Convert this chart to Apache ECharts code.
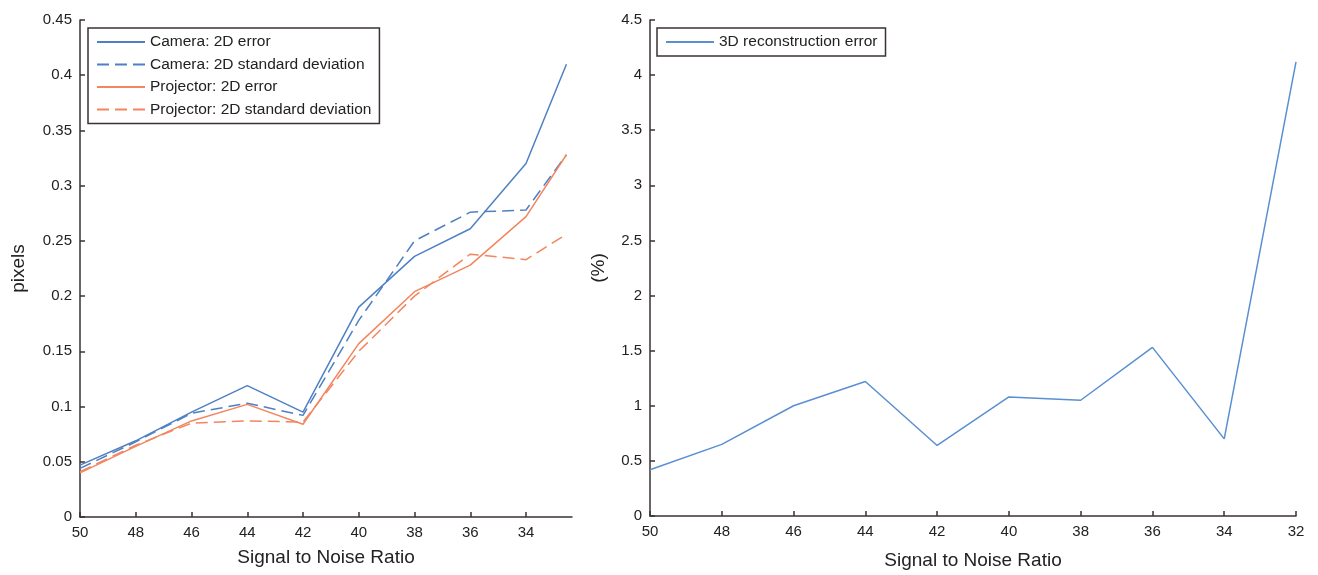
<!DOCTYPE html>
<html>
<head>
<meta charset="utf-8">
<script src="https://cdn.jsdelivr.net/npm/echarts@6/dist/echarts.min.js"></script>
<style type="text/css">
    html, body{
        margin:0;
        padding:0;
        background:#fff;
    }
    #chart{
        width:1318px;
        height:575px;
    }
</style>
</head>
<body>
<div id="chart"></div>
<script type="text/javascript">
    // SNR values (x), left panel ends a bit before 32
    var snrLeft = [50, 48, 46, 44, 42, 40, 38, 36, 34, 32.55];
    var snrRight = [50, 48, 46, 44, 42, 40, 38, 36, 34, 32];
    var leftTicks = [50, 48, 46, 44, 42, 40, 38, 36, 34];

    var cameraError = [0.047, 0.069, 0.095, 0.119, 0.095, 0.190, 0.236, 0.261, 0.320, 0.410];
    var cameraStd = [0.044, 0.068, 0.094, 0.103, 0.092, 0.178, 0.250, 0.276, 0.278, 0.328];
    var projectorError = [0.040, 0.064, 0.087, 0.102, 0.084, 0.157, 0.204, 0.228, 0.272, 0.328];
    var projectorStd = [0.041, 0.065, 0.085, 0.087, 0.086, 0.150, 0.200, 0.238, 0.233, 0.256];
    var reconError = [0.42, 0.65, 1.00, 1.22, 0.64, 1.08, 1.05, 1.53, 0.70, 4.12];

    var BLUE = '#4f80c4';
    var ORANGE = '#f2865f';
    var AXIS = '#3b3232';
    var FONT = '"Liberation Sans", Arial, sans-serif';

    function pairs(xs, ys){
        return xs.map(function(x, i){ return [x, ys[i]]; });
    }

    function lineSeries(name, xi, yi, xs, ys, color, dashed){
        return {
            name: name,
            type: 'line',
            xAxisIndex: xi,
            yAxisIndex: yi,
            data: pairs(xs, ys),
            symbol: 'none',
            silent: true,
            lineStyle: {color: color, width: 1.5, type: dashed ? [12, 6] : 'solid'},
            itemStyle: {color: color}
        };
    }

    var axisCommon = {
        axisLine: {show: true, lineStyle: {color: AXIS, width: 1.5}},
        axisTick: {show: true, inside: true, length: 5, lineStyle: {color: AXIS, width: 1.5}},
        axisLabel: {color: '#222', fontSize: 15, fontFamily: FONT},
        splitLine: {show: false},
        nameTextStyle: {color: '#222', fontSize: 19, fontFamily: FONT}
    };

    var legendCommon = {
        itemWidth: 48, itemHeight: 14,
        padding: [6, 8, 6, 8],
        borderColor: AXIS, borderWidth: 1.5, borderRadius: 0,
        backgroundColor: '#fff',
        itemStyle: {opacity: 0},
        textStyle: {color: '#222', fontSize: 15.5, fontFamily: FONT},
        selectedMode: false
    };

    var chart = echarts.init(document.getElementById('chart'));
    chart.setOption({
        animation: false,
        backgroundColor: '#fff',
        grid: [
            {left: 80, top: 20, width: 492, height: 497},
            {left: 650, top: 20, width: 646, height: 498}
        ],
        legend: [
            echarts.util.merge({
                left: 88, top: 28, orient: 'vertical', itemGap: 6.5,
                data: ['Camera: 2D error', 'Camera: 2D standard deviation', 'Projector: 2D error', 'Projector: 2D standard deviation']
            }, legendCommon),
            echarts.util.merge({
                left: 657, top: 28,
                data: ['3D reconstruction error']
            }, legendCommon)
        ],
        xAxis: [
            echarts.util.merge({
                type: 'value', gridIndex: 0, inverse: true, min: 32.35, max: 50,
                name: 'Signal to Noise Ratio', nameLocation: 'middle', nameGap: 31,
                axisTick: {customValues: leftTicks},
                axisLabel: {customValues: leftTicks}
            }, axisCommon),
            echarts.util.merge({
                type: 'value', gridIndex: 1, inverse: true, min: 32, max: 50, interval: 2,
                name: 'Signal to Noise Ratio', nameLocation: 'middle', nameGap: 35
            }, axisCommon)
        ],
        yAxis: [
            echarts.util.merge({
                type: 'value', gridIndex: 0, min: 0, max: 0.45, interval: 0.05,
                name: 'pixels', nameLocation: 'middle', nameGap: 52
            }, axisCommon),
            echarts.util.merge({
                type: 'value', gridIndex: 1, min: 0, max: 4.5, interval: 0.5,
                name: '(%)', nameLocation: 'middle', nameGap: 42
            }, axisCommon)
        ],
        series: [
            lineSeries('Camera: 2D error', 0, 0, snrLeft, cameraError, BLUE, false),
            lineSeries('Camera: 2D standard deviation', 0, 0, snrLeft, cameraStd, BLUE, true),
            lineSeries('Projector: 2D error', 0, 0, snrLeft, projectorError, ORANGE, false),
            lineSeries('Projector: 2D standard deviation', 0, 0, snrLeft, projectorStd, ORANGE, true),
            lineSeries('3D reconstruction error', 1, 1, snrRight, reconError, '#5a8fd2', false)
        ]
    });
</script>
</body>
</html>
